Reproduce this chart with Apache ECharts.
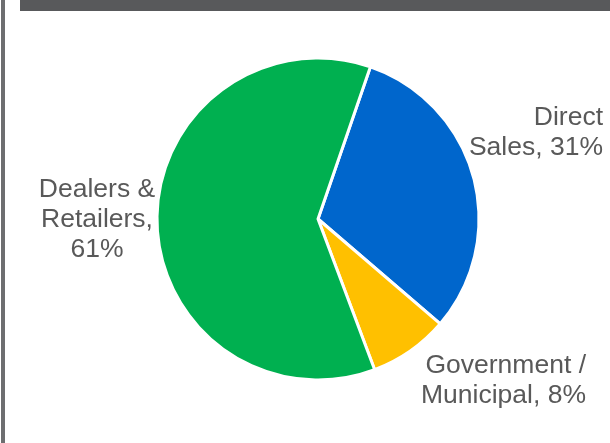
<!DOCTYPE html>
<html>
<head>
<meta charset="utf-8">
<script src="https://cdn.jsdelivr.net/npm/echarts@6/dist/echarts.min.js"></script>
<style>
  html, body { margin: 0; padding: 0; background: #ffffff; }
  #chart { width: 610px; height: 443px; }
</style>
</head>
<body>
<div id="chart"></div>
<script>
// Sales channel mix (percent of total)
const channels = ['Direct\nSales', 'Government /\nMunicipal', 'Dealers &\nRetailers'];
const shares = [31, 8, 61];
const colors = ['#0066cc', '#ffc000', '#00b050'];

// Where each slice's caption sits, and how it is aligned
const labelSpots = [
  { x: 603, y: 133, align: 'right' },
  { x: 586, y: 381, align: 'right' },
  { x: 97, y: 220, align: 'center' }
];

const chart = echarts.init(document.getElementById('chart'), null, { renderer: 'canvas' });

chart.setOption({
  animation: false,
  backgroundColor: '#ffffff',
  graphic: [
    // frame: dark header band and left rule
    { type: 'rect', shape: { x: 20, y: 0, width: 590, height: 11 }, style: { fill: '#58595b' }, z: 10 },
    { type: 'rect', shape: { x: 1, y: 0, width: 4, height: 443 }, style: { fill: '#6d6e70' }, z: 10 }
  ],
  series: [{
    type: 'pie',
    center: [318, 219],
    radius: 161,
    startAngle: 71,
    clockwise: true,
    data: channels.map((name, i) => ({
      name: name,
      value: shares[i],
      itemStyle: { color: colors[i] }
    })),
    itemStyle: { borderColor: '#ffffff', borderWidth: 3 },
    label: {
      show: true,
      color: '#595959',
      fontFamily: 'Liberation Sans, Arial, sans-serif',
      fontSize: 26.5,
      lineHeight: 30,
      overflow: 'none',
      width: 300,
      formatter: p => p.name + (p.dataIndex === 2 ? ',\n' : ', ') + p.value + '%'
    },
    labelLine: { show: false },
    labelLayout: p => {
      const s = labelSpots[p.dataIndex];
      return { x: s.x, y: s.y, align: s.align, verticalAlign: 'middle', width: 300 };
    },
    emphasis: { disabled: true }
  }]
});
</script>
</body>
</html>
